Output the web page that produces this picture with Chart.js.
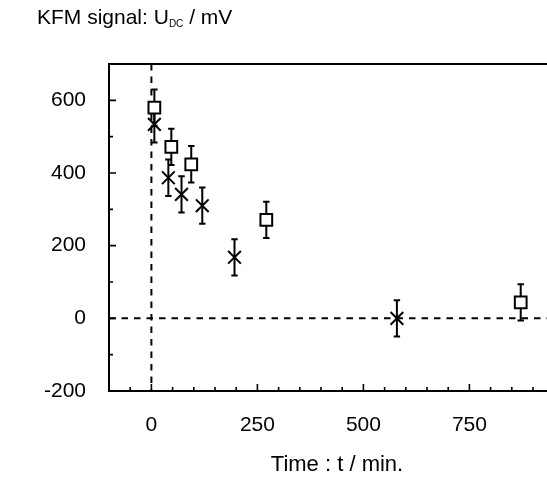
<!DOCTYPE html>
<html><head><meta charset="utf-8">
<script src="https://cdn.jsdelivr.net/npm/chart.js@4/dist/chart.umd.min.js"></script>
<style>
html,body{margin:0;padding:0;background:#fff;}
#wrap{position:relative;width:547px;height:479px;font-family:"Liberation Sans",Arial,sans-serif;color:#000;overflow:hidden;}
canvas{position:absolute;left:0;top:0;}
#ytitle{position:absolute;left:37px;top:6px;font-size:21px;line-height:22px;white-space:nowrap;}
#ytitle sub{font-size:10px;vertical-align:-3px;line-height:0;}
#xtitle{position:absolute;left:237px;width:200px;text-align:center;top:453px;font-size:22px;line-height:22px;white-space:nowrap;}
</style></head>
<body><div id="wrap"><canvas id="c" width="547" height="479"></canvas>
<div id="ytitle">KFM signal: U<sub>DC</sub> / mV</div>
<div id="xtitle">Time : t / min.</div></div>
<script>
// ---- data ----
const squareTime   = [7, 47, 94, 271, 871];
const squareSignal = [580, 472, 424, 271, 44];
const squareError  = [50, 50, 50, 50, 50];
const crossTime    = [7, 40, 71, 120, 196, 579];
const crossSignal  = [534, 387, 341, 310, 168, 0];
const crossError   = [50, 50, 50, 50, 50, 50];
const xTickValues  = [0, 250, 500, 750];
const yTickValues  = [-200, 0, 200, 400, 600];
const xMinorTicks  = [-50, 50, 100, 150, 200, 300, 350, 400, 450, 550, 600, 650, 700, 800, 850, 900];
const yMinorTicks  = [-100, 100, 300, 500];

const FONT = "'Liberation Sans', Arial, sans-serif";
Chart.defaults.font.family = FONT;
Chart.defaults.color = '#000';

function toPoints(xs, ys){ return xs.map((v,i)=>({x:v, y:ys[i]})); }

function drawErrors(ctx, xs, ys, es, sx, sy){
  const cap = 3.2;
  xs.forEach((t,i)=>{
    const px = sx.getPixelForValue(t);
    const top = sy.getPixelForValue(ys[i] + es[i]);
    const bot = sy.getPixelForValue(ys[i] - es[i]);
    ctx.beginPath();
    ctx.moveTo(px, top); ctx.lineTo(px, bot);
    ctx.moveTo(px-cap, top); ctx.lineTo(px+cap, top);
    ctx.moveTo(px-cap, bot); ctx.lineTo(px+cap, bot);
    ctx.stroke();
  });
}

const framePlugin = {
  id: 'frame',
  beforeDatasetsDraw(chart){
    const {ctx, chartArea:a, scales:{x, y}} = chart;
    ctx.save();
    ctx.strokeStyle = '#000';
    ctx.lineWidth = 2;
    ctx.setLineDash([6.5,6]);
    const x0 = x.getPixelForValue(0), y0 = y.getPixelForValue(0);
    ctx.beginPath();
    ctx.moveTo(x0, a.top); ctx.lineTo(x0, a.bottom);
    ctx.moveTo(a.left, y0); ctx.lineTo(a.right, y0);
    ctx.stroke();
    ctx.setLineDash([]);
    ctx.lineWidth = 2;
    drawErrors(ctx, squareTime, squareSignal, squareError, x, y);
    drawErrors(ctx, crossTime, crossSignal, crossError, x, y);
    ctx.restore();
  },
  afterDraw(chart){
    const {ctx, chartArea:a, scales:{x, y}} = chart;
    ctx.save();
    ctx.strokeStyle = '#000';
    ctx.lineWidth = 2;
    ctx.beginPath();
    ctx.moveTo(a.right, a.top); ctx.lineTo(a.left, a.top);
    ctx.lineTo(a.left, a.bottom); ctx.lineTo(a.right, a.bottom);
    ctx.stroke();
    ctx.lineWidth = 1.6;
    ctx.beginPath();
    yTickValues.forEach(v=>{ const p=y.getPixelForValue(v); ctx.moveTo(a.left, p); ctx.lineTo(a.left+7, p); });
    yMinorTicks.forEach(v=>{ const p=y.getPixelForValue(v); ctx.moveTo(a.left, p); ctx.lineTo(a.left+4, p); });
    xTickValues.forEach(v=>{ const p=x.getPixelForValue(v); ctx.moveTo(p, a.bottom); ctx.lineTo(p, a.bottom-7); });
    xMinorTicks.forEach(v=>{ const p=x.getPixelForValue(v); ctx.moveTo(p, a.bottom); ctx.lineTo(p, a.bottom-4); });
    ctx.stroke();
    ctx.restore();
  }
};

new Chart(document.getElementById('c'), {
  type: 'scatter',
  data: {
    datasets: [
      { label: 'square', data: toPoints(squareTime, squareSignal), pointStyle: 'rect', pointRadius: 8.3,
        backgroundColor: '#fff', borderColor: '#000', borderWidth: 2, showLine: false },
      { label: 'cross', data: toPoints(crossTime, crossSignal), pointStyle: 'crossRot', pointRadius: 9,
        backgroundColor: '#000', borderColor: '#000', borderWidth: 2, showLine: false }
    ]
  },
  options: {
    responsive: false, animation: false, devicePixelRatio: 1,
    layout: { autoPadding: false, padding: { top: 64, right: 0, left: 0, bottom: 0 } },
    plugins: { legend: { display: false }, tooltip: { enabled: false } },
    scales: {
      x: {
        type: 'linear', min: -100, max: 933,
        grid: { display: false, drawTicks: false }, border: { display: false },
        ticks: { font: { size: 21 }, color: '#000', padding: 22, maxRotation: 0 },
        afterBuildTicks: s => { s.ticks = xTickValues.map(v=>({value:v})); },
        afterFit: s => { s.height = 88; s.paddingRight = 0; s.paddingLeft = 0; }
      },
      y: {
        type: 'linear', min: -200, max: 700,
        grid: { display: false, drawTicks: false }, border: { display: false },
        ticks: { font: { size: 21 }, color: '#000', padding: 23 },
        afterBuildTicks: s => { s.ticks = yTickValues.map(v=>({value:v})); },
        afterFit: s => { s.width = 109; s.paddingTop = 0; s.paddingBottom = 0; }
      }
    }
  },
  plugins: [framePlugin]
});
</script>
</body></html>
